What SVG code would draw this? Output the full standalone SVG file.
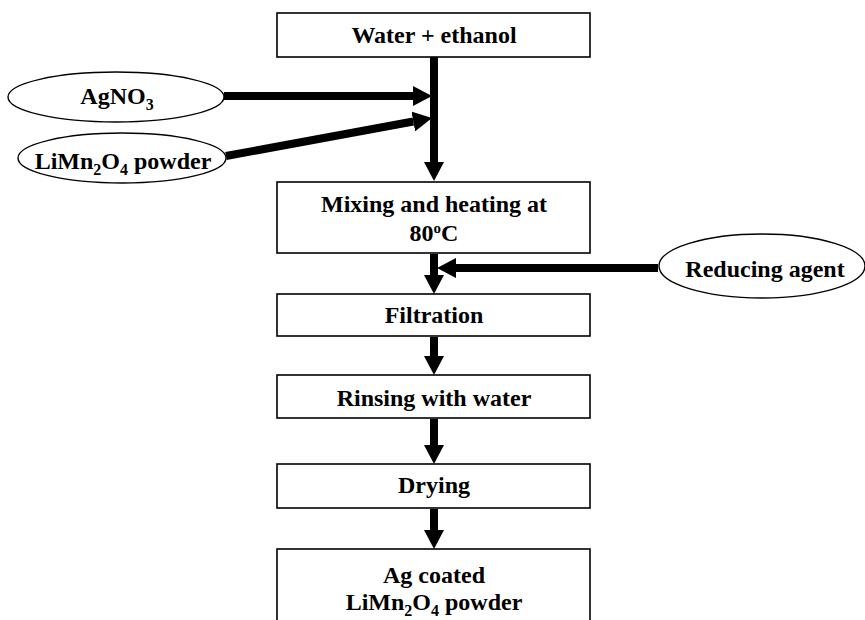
<svg xmlns="http://www.w3.org/2000/svg" width="865" height="620" viewBox="0 0 865 620">
<style>
.box{fill:#fff;stroke:#000;stroke-width:1.6}
.ell{fill:#fff;stroke:#000;stroke-width:1.4}
.t{font-family:"Liberation Serif","Times New Roman",serif;font-weight:bold;font-size:24px;fill:#000;text-anchor:middle}
.sub{font-size:16px}
.con{stroke:#000;stroke-width:8;fill:none;marker-end:url(#ah)}
</style>
<defs>
<marker id="ah" markerUnits="userSpaceOnUse" markerWidth="20" markerHeight="20" refX="0" refY="10" orient="auto" viewBox="0 0 20 20">
<path d="M0,0 L19,10 L0,20 z" fill="#000"/>
</marker>
</defs>
<rect width="865" height="620" fill="#fff"/>
<g id="connectors">
<line class="con" x1="434" y1="57" x2="434" y2="162"/>
<line class="con" x1="224" y1="96" x2="413" y2="96"/>
<line class="con" x1="226" y1="156" x2="413.3" y2="121.5"/>
<line class="con" x1="434" y1="254" x2="434" y2="275"/>
<line class="con" x1="658" y1="268" x2="456" y2="268"/>
<line class="con" x1="434" y1="337" x2="434" y2="356"/>
<line class="con" x1="434" y1="419" x2="434" y2="445"/>
<line class="con" x1="434" y1="509" x2="434" y2="530"/>
</g>
<g id="water">
<rect class="box" x="277" y="13" width="313" height="44"/>
<text class="t" x="434" y="43">Water + ethanol</text>
</g>
<g id="agno3">
<ellipse class="ell" cx="116" cy="97" rx="108" ry="25"/>
<text class="t" x="117" y="104">AgNO<tspan class="sub" dy="6">3</tspan></text>
</g>
<g id="limn2o4">
<ellipse class="ell" cx="122" cy="158" rx="104" ry="25"/>
<text class="t" x="123" y="169">LiMn<tspan class="sub" dy="6">2</tspan><tspan dy="-6">O</tspan><tspan class="sub" dy="6">4</tspan><tspan dy="-6"> powder</tspan></text>
</g>
<g id="mixing">
<rect class="box" x="277" y="182" width="313" height="71"/>
<text class="t" x="434" y="212">Mixing and heating at</text>
<text class="t" x="434" y="241">80<tspan font-size="15" dy="-8">o</tspan><tspan dy="8">C</tspan></text>
</g>
<g id="reducing">
<ellipse class="ell" cx="762" cy="266" rx="103" ry="32"/>
<text class="t" x="765" y="277">Reducing agent</text>
</g>
<g id="filtration">
<rect class="box" x="277" y="294" width="313" height="42"/>
<text class="t" x="434" y="323">Filtration</text>
</g>
<g id="rinsing">
<rect class="box" x="277" y="375" width="313" height="43"/>
<text class="t" x="434" y="406">Rinsing with water</text>
</g>
<g id="drying">
<rect class="box" x="277" y="464" width="313" height="44"/>
<text class="t" x="434" y="493">Drying</text>
</g>
<g id="product">
<rect class="box" x="277" y="549" width="313" height="80"/>
<text class="t" x="434" y="583">Ag coated</text>
<text class="t" x="434" y="610">LiMn<tspan class="sub" dy="6">2</tspan><tspan dy="-6">O</tspan><tspan class="sub" dy="6">4</tspan><tspan dy="-6"> powder</tspan></text>
</g>
</svg>
